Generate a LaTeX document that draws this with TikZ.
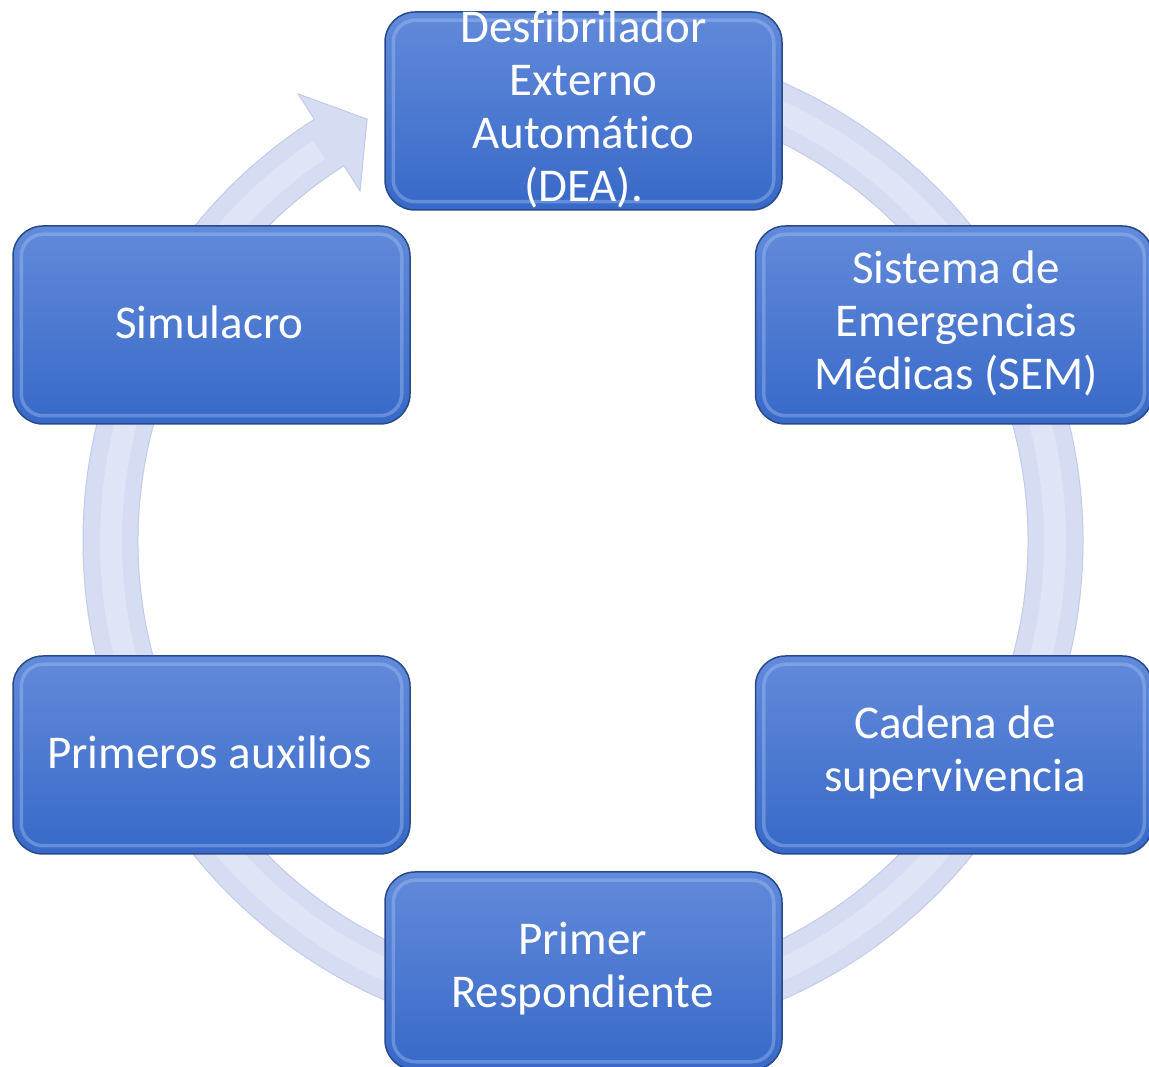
\documentclass[tikz,border=0pt]{standalone}
\usepackage{fontspec}
\setmainfont[RawFeature={-liga;-clig;-calt;-dlig;-rlig}]{Carlito}
\usetikzlibrary{calc}
\newcommand{\nolig}{\kern0pt\relax}
\definecolor{ringfill}{RGB}{214,220,242}
\definecolor{ringlight}{RGB}{223,228,247}
\definecolor{ringedge}{RGB}{195,203,230}
\definecolor{boxtop}{RGB}{98,138,218}
\definecolor{boxbot}{RGB}{56,105,200}
\definecolor{boxedge}{RGB}{40,74,140}
\definecolor{boxhi}{RGB}{165,196,244}
\begin{document}
\begin{tikzpicture}[x=1pt,y=1pt,
  stepbox/.style={draw=boxedge, line width=1.5pt, rounded corners=30pt,
    minimum width=397pt, minimum height=198pt, top color=boxtop,
    bottom color=boxbot, inner sep=0pt},
  bevel/.style={draw=boxhi, draw opacity=0.4, line width=3.5pt, rounded corners=22pt},
  lbl/.style={text=white, align=center, font=\fontsize{47}{53}\selectfont, inner sep=0pt}]
\useasboundingbox[fill=white] (0,0) rectangle (1149,1066);
\coordinate (c) at (583,525);
% ring arrow
\fill[ringfill, draw=ringedge, line width=1pt]
  ($(c)+(90:500pt)$) arc[start angle=90, end angle=-237.5, radius=500pt]
  -- ($(c)+(-237.5:530pt)$) -- ($(c)+(-242.9:474pt)$) -- ($(c)+(-237.5:415pt)$)
  -- ($(c)+(-237.5:445pt)$) arc[start angle=-237.5, end angle=90, radius=445pt] -- cycle;
\draw[ringlight, line width=22pt]
  ($(c)+(90:472pt)$) arc[start angle=90, end angle=-236, radius=472pt];
% boxes
\node[stepbox] (dea) at (583.5,955) {};
\node[stepbox] (sem) at (954,741) {};
\node[stepbox] (cad) at (954,311) {};
\node[stepbox] (pri) at (583.5,95) {};
\node[stepbox] (aux) at (211.5,311) {};
\node[stepbox] (sim) at (211.5,741) {};
\foreach \n in {dea,sem,cad,pri,aux,sim}
  \draw[bevel] ($(\n.south west)+(9,9)$) rectangle ($(\n.north east)+(-9,-9)$);
% labels
\node[lbl] (dea-t) at ($(dea)+(0,2)$) {Desf\nolig ibrilador\\Externo\\Automát\nolig ico\\(DEA).};
\node[lbl] (sem-t) at ($(sem)+(2,2)$) {Sistema de\\Emergencias\\Médicas (SEM)};
\node[lbl] (cad-t) at ($(cad)+(1,3)$) {Cadena de\\supervivencia};
\node[lbl] (pri-t) at ($(pri)+(-1,2)$) {Primer\\Respondient\nolig e};
\node[lbl] (aux-t) at ($(aux)+(-2,3)$) {Primeros auxilios};
\node[lbl] (sim-t) at ($(sim)+(-2,3)$) {Simulacro};
\end{tikzpicture}
\end{document}
